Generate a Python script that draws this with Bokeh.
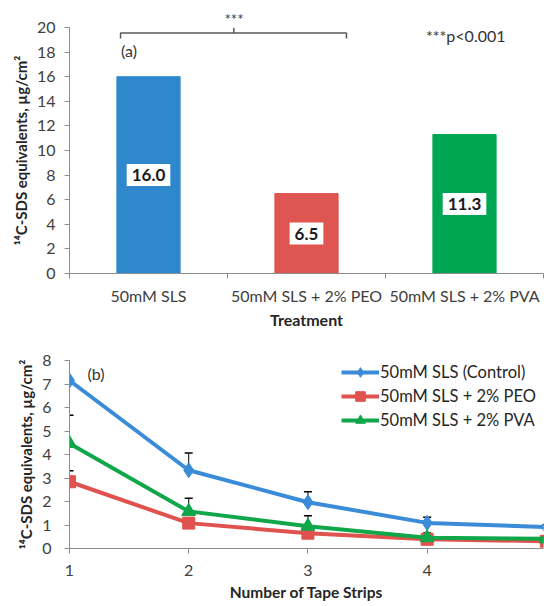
from bokeh.plotting import figure
from bokeh.models import FixedTicker, Label, Whisker, ColumnDataSource, TeeHead, Range1d
from bokeh.layouts import column
from bokeh.core.properties import value
from bokeh.embed import file_html
from bokeh.resources import INLINE

# ---------------- data ----------------
treatments = ["50mM SLS", "50mM SLS + 2% PEO", "50mM SLS + 2% PVA"]
deposit = [16.0, 6.5, 11.3]
bar_colors = ["#2F88CC", "#DF5551", "#00A651"]

strips = [1, 2, 3, 4, 5]
control = [7.15, 3.33, 1.97, 1.09, 0.91]
control_err = [1.02, 0.73, 0.44, 0.24, 0.10]
peo = [2.84, 1.08, 0.65, 0.39, 0.31]
peo_err = [0.47, 0.15, 0.12, 0.10, 0.05]
pva = [4.47, 1.58, 0.95, 0.46, 0.41]
pva_err = [1.20, 0.56, 0.44, 0.20, 0.10]
series_names = ["50mM SLS (Control)", "50mM SLS + 2% PEO", "50mM SLS + 2% PVA"]
line_colors = ["#3A8BD8", "#E0524F", "#10A64A"]

FONT = "Lato"
TICK_COLOR = "#404040"
AXIS_COLOR = "#8C8C8C"
TITLE_COLOR = "#262626"
YLABEL = "\u00b9\u2074C-SDS equivalents, \u00b5g/cm\u00b2"


def style_axes(p):
    for ax in (p.xaxis[0], p.yaxis[0]):
        ax.axis_line_color = AXIS_COLOR
        ax.major_tick_line_color = AXIS_COLOR
        ax.minor_tick_line_color = AXIS_COLOR
        ax.major_label_text_font = FONT
        ax.major_label_text_color = TICK_COLOR
        ax.major_label_text_font_size = "16px"
        ax.axis_label_text_font = FONT
        ax.axis_label_text_font_style = "bold"
        ax.axis_label_text_color = TITLE_COLOR
    p.xgrid.visible = False
    p.ygrid.visible = False
    p.outline_line_color = None


# ---------------- (a) bar chart ----------------
p1 = figure(width=544, height=331, x_range=Range1d(0, 3), y_range=Range1d(0, 20),
            output_backend="svg", toolbar_location=None,
            min_border_left=67, min_border_right=1, min_border_top=27, min_border_bottom=56)
xpos = [i + 0.5 for i in range(len(treatments))]
src = ColumnDataSource(dict(x=xpos, top=deposit, color=bar_colors,
                            mid=[v / 2 for v in deposit],
                            label=[f"{v:.1f}" for v in deposit]))
p1.vbar(x="x", top="top", width=0.4, color="color", source=src)
p1.text(x="x", y="mid", text="label", source=src, text_align="center", text_baseline="middle",
        text_font=value(FONT), text_font_style="bold", text_font_size="17px", text_color="#1a1a1a",
        background_fill_color="white", padding=5)

style_axes(p1)
p1.xaxis.ticker = FixedTicker(ticks=xpos, minor_ticks=[0, 1, 2, 3])
p1.xaxis.major_label_overrides = {x: t for x, t in zip(xpos, treatments)}
p1.xaxis.major_tick_out = 0
p1.xaxis.major_tick_in = 0
p1.xaxis.minor_tick_out = 5
p1.xaxis.minor_tick_in = 0
p1.xaxis.major_label_standoff = 7
p1.xaxis.axis_label = "Treatment"
p1.xaxis.axis_label_standoff = 2
p1.xaxis.axis_label_text_font_size = "16px"
p1.yaxis.ticker = FixedTicker(ticks=list(range(0, 21, 2)), minor_ticks=[])
p1.yaxis.major_tick_out = 5
p1.yaxis.major_tick_in = 0
p1.yaxis.major_label_standoff = 9
p1.yaxis.axis_label = YLABEL
p1.yaxis.axis_label_standoff = 4
p1.yaxis.axis_label_text_font_size = "15px"

# significance bracket between the first two bars
bl, br = xpos[0] - 0.177, xpos[1] + 0.253
bm = (bl + br) / 2 + 0.002
p1.multi_line(xs=[[bl, bl, br, br], [bm, bm]], ys=[[19.1, 19.55, 19.55, 19.1], [19.55, 19.97]],
              line_color="#595959", line_width=1.5)
# "***" sits above the plot frame: drawn as the figure title
p1.title.text = "***"
p1.title.align = "left"
p1.title.offset = 155
p1.title.standoff = 0
p1.title.text_font = FONT
p1.title.text_font_size = "15px"
p1.title.text_font_style = "normal"
p1.title.text_color = "#404040"
p1.add_layout(Label(x=xpos[0] - 0.174, y=18.17, text="(a)", text_align="left", text_baseline="middle",
                    text_font=FONT, text_font_size="16px", text_color="#333333"))
p1.add_layout(Label(x=xpos[2] - 0.244, y=19.33, text="***p<0.001", text_align="left",
                    text_baseline="middle", text_font=FONT, text_font_size="16px",
                    text_color="#333333"))

# ---------------- (b) line chart ----------------
p2 = figure(width=544, height=275, x_range=Range1d(1, 4.976), y_range=Range1d(0, 8),
            output_backend="svg", toolbar_location=None,
            min_border_left=69, min_border_right=0, min_border_top=29, min_border_bottom=58)
style_axes(p2)
p2.xaxis.ticker = FixedTicker(ticks=strips, minor_ticks=[])
p2.xaxis.major_tick_out = 5
p2.xaxis.major_tick_in = 0
p2.xaxis.major_label_standoff = 11
p2.xaxis.axis_label = "Number of Tape Strips"
p2.xaxis.axis_label_standoff = 4
p2.xaxis.axis_label_text_font_size = "15.5px"
p2.yaxis.ticker = FixedTicker(ticks=list(range(0, 9)), minor_ticks=[])
p2.yaxis.major_tick_out = 5
p2.yaxis.major_tick_in = 0
p2.yaxis.major_label_standoff = 13
p2.yaxis.axis_label = YLABEL
p2.yaxis.axis_label_standoff = 4
p2.yaxis.axis_label_text_font_size = "15px"

series = [(control, control_err, "diamond", 15), (peo, peo_err, "square", 12), (pva, pva_err, "triangle", 14)]
for (vals, errs, marker, size), name, col in zip(series, series_names, line_colors):
    s = ColumnDataSource(dict(x=strips, y=vals, upper=[v + e for v, e in zip(vals, errs)]))
    w = Whisker(base="x", upper="upper", lower="y", source=s, level="underlay",
                line_color="black", line_width=1,
                upper_head=TeeHead(size=8, line_color="black", line_width=1.5), lower_head=None)
    p2.add_layout(w)
    p2.line(x="x", y="y", source=s, line_color=col, line_width=4, legend_label=name)
    p2.scatter(x="x", y="y", source=s, marker=marker, size=size, fill_color=col, line_color=col,
               legend_label=name)

lg = p2.legend[0]
lg.location = (272, 116)
lg.border_line_color = None
lg.background_fill_alpha = 0
lg.padding = 0
lg.margin = 0
lg.spacing = -2
lg.glyph_width = 38
lg.glyph_height = 24
lg.label_height = 24
lg.label_standoff = 1
lg.label_text_font = FONT
lg.label_text_font_size = "16.5px"
lg.label_text_color = "#262626"

p2.add_layout(Label(x=1.15, y=7.44, text="(b)", text_align="left", text_baseline="middle",
                    text_font=FONT, text_font_size="16px", text_color="#333333"))

layout = column(p1, p2, spacing=0)
open("out.html", "w").write(file_html(layout, INLINE))
